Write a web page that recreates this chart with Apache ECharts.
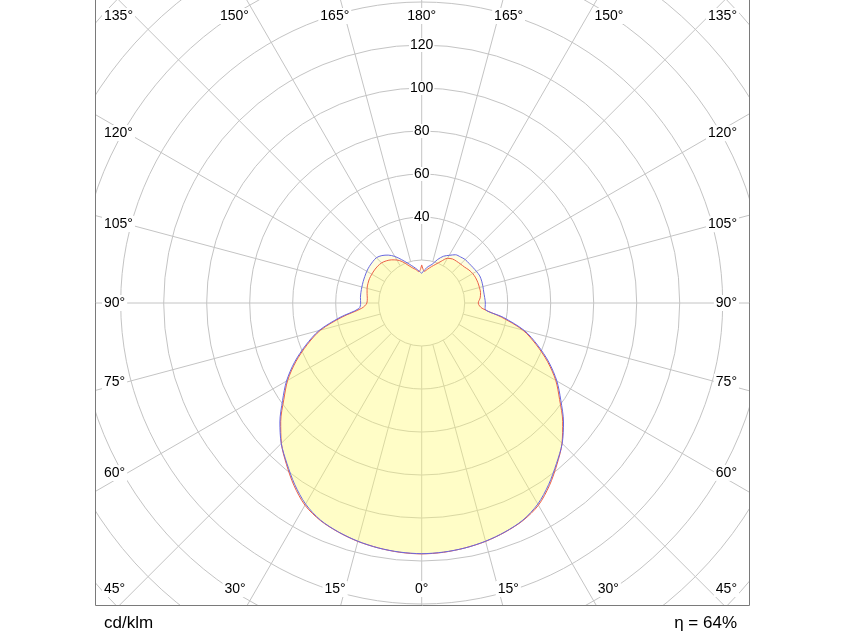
<!DOCTYPE HTML>
<html lang="en">
<head>
	<meta charset="utf-8">
	<title>Polar intensity curve</title>
	<style>
		html, body { margin: 0; padding: 0; background: #fff; }
		#main { width: 844px; height: 633px; }
	</style>
</head>
<body>
	<div id="main"></div>
	<script src="https://cdn.jsdelivr.net/npm/echarts@6/dist/echarts.min.js"></script>
	<script>
		// gamma angles (deg from nadir), same for every half plane
		var gammas = [0, 5, 10, 15, 20, 25, 30, 35, 40, 45, 50, 55, 60, 65, 70, 75, 80, 85,
			90, 95, 100, 105, 110, 115, 120, 125, 130, 135, 140, 145, 150, 155, 160, 165, 170, 175, 180];

		// cd/klm, red curve (C0 left / C180 right)
		var redLeft = [116.7, 116.4, 115.7, 114.8, 113.4, 111.6, 108.6, 103.6, 97.9, 92.3, 85.6, 78.3, 72.0, 64.6, 56.7, 48.7, 37.6, 28.0,
			25.5, 25.4, 25.8, 26.3, 26.6, 26.8, 26.8, 26.8, 26.7, 26.4, 25.6, 24.5, 23.1, 21.2, 18.8, 17.0, 15.8, 14.6, 17.7];
		var redRight = [116.7, 116.4, 115.7, 114.8, 113.4, 111.6, 108.6, 103.6, 97.9, 92.3, 85.6, 78.3, 72.0, 64.6, 56.7, 48.7, 37.6, 28.2,
			26.3, 27.3, 27.8, 27.8, 27.8, 27.7, 27.4, 26.8, 26.0, 25.6, 25.3, 25.0, 24.0, 21.4, 19.2, 17.5, 16.0, 14.8, 17.7];
		// blue curve (C270 left / C90 right)
		var blueLeft = [116.6, 116.3, 115.7, 114.7, 113.3, 111.4, 108.0, 103.0, 97.5, 92.4, 86.1, 79.0, 72.6, 65.3, 57.4, 49.4, 38.6, 29.3,
			28.4, 28.6, 28.7, 28.8, 29.0, 29.2, 29.5, 29.7, 29.8, 29.8, 28.8, 27.2, 25.0, 22.3, 19.9, 18.0, 16.4, 15.0, 13.8];
		var blueRight = [116.6, 116.3, 115.7, 114.7, 113.3, 111.4, 108.0, 103.0, 97.5, 92.4, 86.1, 79.0, 72.6, 65.3, 57.4, 49.4, 38.6, 29.6,
			29.6, 29.4, 29.3, 29.5, 29.7, 29.8, 29.4, 29.0, 28.7, 28.6, 28.0, 27.4, 25.6, 24.0, 21.5, 18.6, 17.2, 15.5, 13.8];

		var radiusLabels = [40, 60, 80, 100, 120];
		var angleLabels = [0, 15, 30, 45, 60, 75, 90, 105, 120, 135, 150, 165, 180];
		var unitText = 'cd/klm';
		var effText = 'η = 64%';

		var cx = 421.7, cy = 303, pxPerUnit = 2.15, rMax = 220;
		var frame = { l: 95, r: 750, t: 0, b: 606 };
		var font = '"Liberation Sans", Arial, sans-serif';
		var gridColor = '#c4c4c4';

		// right half goes to negative angle values, left half to positive
		function loop(right, left) {
			var pts = [];
			for (var i = gammas.length - 1; i >= 0; i--) pts.push([right[i], -gammas[i]]);
			for (var j = 1; j < gammas.length; j++) pts.push([left[j], gammas[j]]);
			return pts;
		}

		// angle labels sit on the frame, where the ray leaves the plot
		function angleLabel(g, side) {
			var a = g * Math.PI / 180;
			var dx = Math.sin(a) * side, dy = Math.cos(a);
			var txt = g + '°';
			var w = txt.length * 7.8 - 2.2;
			var tx = (side < 0 ? cx - 118 : 725 - cx) / Math.max(Math.abs(dx), 1e-6);
			var tRow = Math.abs(dy) < 1e-6 ? Infinity : (dy > 0 ? (589 - cy) / dy : (16 - cy) / dy);
			var el = { type: 'text', z: 60, silent: true, style: {
				text: txt, fontSize: 14, fontFamily: font, fill: '#000',
				verticalAlign: 'middle', backgroundColor: '#fff', padding: [1, 2] } };
			if (tx <= tRow) {
				el.x = side < 0 ? 102 : 739;
				el.y = cy + dy * tx * 0.97;
				el.style.align = side < 0 ? 'left' : 'right';
			} else {
				var x = cx + dx * tRow * 1.13;
				x = Math.min(Math.max(x, 104 + w / 2), 737 - w / 2);
				el.x = x;
				el.y = dy > 0 ? 589 : 16;
				el.style.align = 'center';
			}
			return el;
		}

		var graphics = [
			{ type: 'rect', z: 50, silent: true, shape: { x: 0, y: 0, width: frame.l, height: 633 }, style: { fill: '#fff' } },
			{ type: 'rect', z: 50, silent: true, shape: { x: frame.r, y: 0, width: 844 - frame.r, height: 633 }, style: { fill: '#fff' } },
			{ type: 'rect', z: 50, silent: true, shape: { x: 0, y: frame.b, width: 844, height: 633 - frame.b }, style: { fill: '#fff' } },
			{ type: 'polyline', z: 55, silent: true,
				shape: { points: [[frame.l + 0.5, 0], [frame.l + 0.5, frame.b - 0.5], [frame.r - 0.5, frame.b - 0.5], [frame.r - 0.5, 0]] },
				style: { stroke: '#7a7a7a', lineWidth: 1, fill: null } },
			{ type: 'text', z: 60, silent: true, x: 104, y: 623,
				style: { text: unitText, fontSize: 17, fontFamily: font, fill: '#000', align: 'left', verticalAlign: 'middle' } },
			{ type: 'text', z: 60, silent: true, x: 737, y: 623,
				style: { text: effText, fontSize: 17, fontFamily: font, fill: '#000', align: 'right', verticalAlign: 'middle' } }
		];
		angleLabels.forEach(function (g) {
			if (g === 0 || g === 180) {
				graphics.push(angleLabel(g, 1));
			} else {
				graphics.push(angleLabel(g, -1));
				graphics.push(angleLabel(g, 1));
			}
		});

		var chart = echarts.init(document.getElementById('main'), null, { renderer: 'canvas' });
		chart.setOption({
			animation: false,
			backgroundColor: '#fff',
			polar: [
				{ center: [cx, cy], radius: [0, rMax * pxPerUnit] },
				{ center: [cx, cy], radius: [20 * pxPerUnit, rMax * pxPerUnit] }
			],
			angleAxis: [
				{ polarIndex: 0, type: 'value', min: -180, max: 180, interval: 15, startAngle: 90, clockwise: true,
					axisLine: { show: false }, axisTick: { show: false }, axisLabel: { show: false }, splitLine: { show: false } },
				{ polarIndex: 1, type: 'value', min: -180, max: 180, interval: 15, startAngle: 90, clockwise: true,
					axisLine: { show: false }, axisTick: { show: false }, axisLabel: { show: false },
					splitLine: { show: true, lineStyle: { color: gridColor, width: 1 } } }
			],
			radiusAxis: [
				{ polarIndex: 0, type: 'value', min: 0, max: rMax, interval: 20,
					axisLine: { show: false }, axisTick: { show: false }, axisLabel: { show: false },
					splitLine: { show: true, lineStyle: { color: gridColor, width: 1 } } },
				{ polarIndex: 1, type: 'value', min: 20, max: rMax, interval: 20,
					axisLine: { show: false }, axisTick: { show: false }, axisLabel: { show: false }, splitLine: { show: false } }
			],
			series: [
				{
					type: 'line', coordinateSystem: 'polar', polarIndex: 0, name: 'C0-C180',
					data: loop(redRight, redLeft), symbol: 'none', smooth: 0.3, silent: true,
					lineStyle: { color: 'rgb(236,96,72)', width: 1 },
					areaStyle: { color: 'rgba(255,252,110,0.3)' }
				},
				{
					type: 'line', coordinateSystem: 'polar', polarIndex: 0, name: 'C90-C270',
					data: loop(blueRight, blueLeft), symbol: 'none', smooth: 0.3, silent: true,
					lineStyle: { color: 'rgb(104,104,226)', width: 1 },
					areaStyle: { color: 'rgba(255,252,110,0.3)' }
				},
				{
					type: 'scatter', coordinateSystem: 'polar', polarIndex: 0, silent: true, z: 10,
					data: radiusLabels.map(function (r) { return [r, 180]; }),
					symbolSize: 1, itemStyle: { color: 'rgba(255,255,255,0)' },
					label: { show: true, position: 'inside', formatter: function (p) { return p.value[0]; },
						color: '#000', opacity: 1, textBorderWidth: 0, fontSize: 14, fontFamily: font,
						backgroundColor: '#fff', padding: [0, 1] }
				}
			],
			graphic: graphics
		});
	</script>
</body>
</html>
